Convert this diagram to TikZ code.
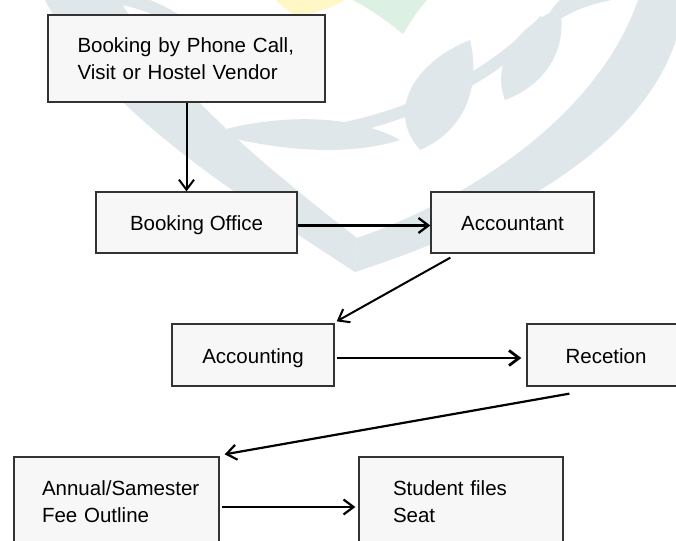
\documentclass[tikz,border=0pt]{standalone}
\usepackage{fontspec}
\setmainfont{Liberation Sans}
\usetikzlibrary{arrows.meta}
\definecolor{wmark}{HTML}{DFE7EB}
\definecolor{wyellow}{HTML}{FFF7C6}
\definecolor{wgreen}{HTML}{DCF0E3}
\definecolor{boxfill}{HTML}{F7F7F7}
\definecolor{boxline}{HTML}{333333}
\begin{document}
\begin{tikzpicture}[x=1pt,y=-1pt,
  box/.style={draw=boxline,line width=1.3pt,fill=boxfill,
    font=\fontsize{20.5}{27}\selectfont,inner sep=0pt,
    text height=16pt,text depth=0pt},
  twoline/.style={align=left,text height=16pt,text depth=27pt},
  flow/.style={-{Straight Barb[length=10pt,width=15pt]},line width=2pt,black}]
\clip (0,0) rectangle (676,540);
\fill[white] (0,0) rectangle (676,540);

% faint background emblem: two sweeping arms with leaves
\begin{scope}[fill=wmark]
  \fill (45,0) .. controls (100,110) and (230,190) .. (355,272)
        -- (357,238) .. controls (270,170) and (170,90) .. (120,0) -- cycle;
  \fill (676,40) .. controls (640,150) and (500,225) .. (355,272)
        -- (357,238) .. controls (480,195) and (600,110) .. (638,0)
        -- (676,0) -- cycle;
  \draw[wmark,line width=12pt] (300,135) .. controls (400,125) and (490,80) .. (545,20);
  \fill (420,150) .. controls (385,110) and (415,62) .. (470,40)
        .. controls (482,90) and (462,132) .. (420,150) -- cycle;
  \fill (505,100) .. controls (490,60) and (520,25) .. (560,8)
        .. controls (568,50) and (545,85) .. (505,100) -- cycle;
  \fill (540,35) .. controls (560,15) and (585,5) .. (612,0)
        -- (560,0) .. controls (550,10) and (543,22) .. (540,35) -- cycle;
  \fill (400,140) .. controls (350,112) and (270,115) .. (212,133)
        .. controls (280,152) and (350,156) .. (400,140) -- cycle;
  \fill (215,58) .. controls (185,22) and (140,6) .. (95,0)
        -- (150,0) .. controls (180,12) and (205,30) .. (215,58) -- cycle;
\end{scope}
\fill[wyellow] (276,0) .. controls (285,10) and (295,15) .. (300,16)
  .. controls (320,12) and (335,6) .. (345,0) -- cycle;
\fill[wgreen] (353,0) .. controls (375,12) and (392,25) .. (403,34)
  .. controls (410,22) and (418,10) .. (427,0) -- cycle;

% process boxes
\node[box,twoline,text width=218pt,inner xsep=29.5pt,minimum width=277pt,minimum height=87pt]
  (b1) at (186.5,58.5) {Booking by Phone Call,\\Visit or Hostel Vendor};
\node[box,minimum width=201pt,minimum height=61pt] (b2) at (196.5,222.5) {Booking Office};
\node[box,minimum width=163pt,minimum height=61pt] (b3) at (512.5,222.5) {Accountant};
\node[box,minimum width=162pt,minimum height=62pt] (b4) at (253,355) {Accounting};
\node[box,minimum width=158pt,minimum height=62pt] (b5) at (606,355) {Recetion};
\node[box,twoline,text width=149pt,inner xsep=28pt,minimum width=205pt,minimum height=87pt]
  (b6) at (116.5,500.5) {\mbox{Annual/Samester}\\Fee Outline};
\node[box,twoline,text width=136pt,inner xsep=34pt,minimum width=204pt,minimum height=87pt]
  (b7) at (461,500.5) {Student files\\Seat};

% flow connectors
\draw[flow] (b1.south) -- (b1.south |- b2.north);
\draw[flow,line width=2.3pt] ([yshift=-3pt]b2.east) -- ([yshift=-3pt]b2.east -| b3.west);
\draw[flow] ([xshift=20pt,yshift=-4pt]b3.south west) -- ([xshift=2pt,yshift=2pt]b4.north east);
\draw[flow,line width=2.8pt] ([xshift=2pt,yshift=-3pt]b4.east) -- ([xshift=-5pt,yshift=-3pt]b5.west);
\draw[flow,line width=2.2pt] ([xshift=43pt,yshift=-7pt]b5.south west) -- ([xshift=5pt,yshift=2pt]b6.north east);
\draw[flow,line width=2.2pt] ([xshift=2pt,yshift=-6.5pt]b6.east) -- ([xshift=-3pt,yshift=-6.5pt]b7.west);
\end{tikzpicture}
\end{document}
